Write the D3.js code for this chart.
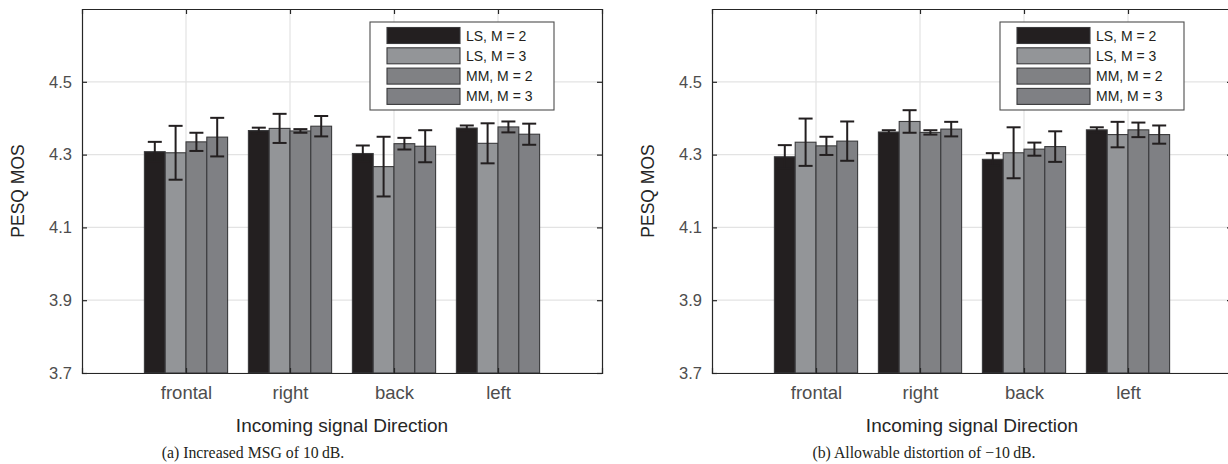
<!DOCTYPE html>
<html>
<head>
<meta charset="utf-8">
<script src="https://cdn.jsdelivr.net/npm/d3@7"></script>
<style>
  body { margin: 0; background: #fff; }
  svg { display: block; }
</style>
</head>
<body>
<svg id="chart" width="1228" height="464"></svg>
<script>
// ----------------------------------------------------------------
// data
var categories = ["frontal", "right", "back", "left"];
var series_names = ["LS, M = 2", "LS, M = 3", "MM, M = 2", "MM, M = 3"];
var y_ticks = [3.7, 3.9, 4.1, 4.3, 4.5];

// (a) increased MSG of 10 dB -- rows = category, cols = series
var means_a = [
  [4.308, 4.305, 4.335, 4.348],
  [4.366, 4.372, 4.365, 4.378],
  [4.303, 4.267, 4.330, 4.323],
  [4.373, 4.331, 4.376, 4.356]
];
var err_a = [
  [0.027, 0.074, 0.025, 0.053],
  [0.008, 0.040, 0.005, 0.028],
  [0.022, 0.082, 0.016, 0.044],
  [0.007, 0.055, 0.015, 0.029]
];

// (b) allowable distortion of -10 dB
var means_b = [
  [4.294, 4.334, 4.324, 4.337],
  [4.362, 4.391, 4.361, 4.370],
  [4.287, 4.305, 4.315, 4.322],
  [4.368, 4.355, 4.368, 4.355]
];
var err_b = [
  [0.032, 0.065, 0.025, 0.054],
  [0.005, 0.031, 0.006, 0.020],
  [0.017, 0.070, 0.018, 0.042],
  [0.007, 0.035, 0.020, 0.025]
];

var captions = ["(a) Increased MSG of 10\u2009dB.", "(b) Allowable distortion of \u221210\u2009dB."];

// ----------------------------------------------------------------
var colors = ["#231f20", "#939598", "#808184", "#7f8084"];
var axis_color = "#262626";
var tick_color = "#4d4d4d";
var grid_color = "#e3e3e3";
var sans = "'Liberation Sans', Arial, Helvetica, sans-serif";
var serif = "'Liberation Serif', 'Times New Roman', serif";

var svg = d3.select("#chart");

draw_panel(82, means_a, err_a, captions[0], 253);
draw_panel(712, means_b, err_b, captions[1], 924);

// ----------------------------------------------------------------
function draw_panel(left, means, errs, caption, caption_x)
{
  var width = 520;
  var top = 9, bottom = 373;

  var x = d3.scaleLinear().domain([0, 5]).range([left, left + width]);
  var y = d3.scaleLinear().domain([3.7, 4.7]).range([bottom, top]);
  var bar_w = 0.2;
  var offsets = [-0.3, -0.1, 0.1, 0.3];

  var g = svg.append("g");

  // grid lines
  g.selectAll(".hgrid").data(y_ticks).enter().append("line")
   .attr("x1", x(0)).attr("x2", x(5))
   .attr("y1", function(d) { return y(d); })
   .attr("y2", function(d) { return y(d); })
   .style("stroke", grid_color).style("stroke-width", 1.2);

  g.selectAll(".vgrid").data(categories).enter().append("line")
   .attr("x1", function(d, i) { return x(i + 1); })
   .attr("x2", function(d, i) { return x(i + 1); })
   .attr("y1", y(4.7)).attr("y2", y(3.7))
   .style("stroke", grid_color).style("stroke-width", 1.2);

  // bars
  var groups = g.selectAll(".grp").data(means).enter().append("g");

  groups.selectAll("rect")
    .data(function(d, i) { return d.map(function(v, j) { return {c: i, s: j, v: v}; }); })
    .enter().append("rect")
    .attr("x", function(d) { return x(d.c + 1 + offsets[d.s] - bar_w / 2); })
    .attr("width", x(bar_w) - x(0))
    .attr("y", function(d) { return y(d.v); })
    .attr("height", function(d) { return y(3.7) - y(d.v); })
    .style("fill", function(d) { return colors[d.s]; })
    .style("stroke", "#3a3a3c")
    .style("stroke-width", 1.1);

  // error bars
  var eb = [];
  means.forEach(function(row, i) {
    row.forEach(function(v, j) { eb.push({c: i, s: j, v: v, e: errs[i][j]}); });
  });
  var cap = 7;
  var ebg = g.selectAll(".eb").data(eb).enter().append("g")
    .style("stroke", "#231f20").style("stroke-width", 2);
  ebg.append("line")
    .attr("x1", function(d) { return x(d.c + 1 + offsets[d.s]); })
    .attr("x2", function(d) { return x(d.c + 1 + offsets[d.s]); })
    .attr("y1", function(d) { return y(d.v + d.e); })
    .attr("y2", function(d) { return y(d.v - d.e); });
  ebg.append("line")
    .attr("x1", function(d) { return x(d.c + 1 + offsets[d.s]) - cap; })
    .attr("x2", function(d) { return x(d.c + 1 + offsets[d.s]) + cap; })
    .attr("y1", function(d) { return y(d.v + d.e); })
    .attr("y2", function(d) { return y(d.v + d.e); });
  ebg.append("line")
    .attr("x1", function(d) { return x(d.c + 1 + offsets[d.s]) - cap; })
    .attr("x2", function(d) { return x(d.c + 1 + offsets[d.s]) + cap; })
    .attr("y1", function(d) { return y(d.v - d.e); })
    .attr("y2", function(d) { return y(d.v - d.e); });

  // axes (ticks inward, box all round)
  var tick_len = 5;
  var x_vals = categories.map(function(d, i) { return i + 1; });

  var ax_left = g.append("g").attr("transform", "translate(" + x(0) + ",0)")
    .call(d3.axisLeft(y).tickValues(y_ticks).tickSize(-tick_len).tickPadding(10).tickFormat(d3.format(".1f")));
  var ax_right = g.append("g").attr("transform", "translate(" + x(5) + ",0)")
    .call(d3.axisRight(y).tickValues(y_ticks).tickSize(-tick_len).tickFormat(""));
  var ax_bottom = g.append("g").attr("transform", "translate(0," + y(3.7) + ")")
    .call(d3.axisBottom(x).tickValues(x_vals).tickSize(-tick_len).tickPadding(13)
      .tickFormat(function(d) { return categories[d - 1]; }));
  var ax_top = g.append("g").attr("transform", "translate(0," + y(4.7) + ")")
    .call(d3.axisTop(x).tickValues(x_vals).tickSize(-tick_len).tickFormat(""));

  [ax_left, ax_right, ax_bottom, ax_top].forEach(function(a) {
    a.select(".domain").style("stroke", axis_color).style("stroke-width", 1.2);
    a.selectAll(".tick line").style("stroke", axis_color).style("stroke-width", 1.2);
    a.selectAll("text").style("fill", tick_color).style("font-family", sans).style("font-size", "16.5px");
  });
  ax_bottom.selectAll("text").style("font-size", "18.5px");

  // axis labels
  g.append("text")
   .attr("transform", "rotate(-90)")
   .attr("x", -(top + bottom) / 2)
   .attr("y", left - 58)
   .style("text-anchor", "middle")
   .style("font-family", sans).style("font-size", "17.5px").style("fill", "#262626")
   .text("PESQ MOS");

  g.append("text")
   .attr("x", left + width / 2)
   .attr("y", 432)
   .style("text-anchor", "middle")
   .style("font-family", sans).style("font-size", "19px").style("fill", "#262626")
   .text("Incoming signal Direction");

  g.append("text")
   .attr("x", caption_x)
   .attr("y", 458)
   .style("text-anchor", "middle")
   .style("font-family", serif).style("font-size", "15.8px").style("fill", "#231f20")
   .text(caption);

  // legend
  var lg = g.append("g").attr("transform", "translate(" + (left + 288) + ",22)");
  lg.append("rect")
    .attr("width", 184).attr("height", 88)
    .style("fill", "#fff").style("stroke", "#4d4d4d").style("stroke-width", 1.1);

  var items = lg.selectAll(".item").data(series_names).enter().append("g")
    .attr("transform", function(d, i) { return "translate(17," + (5.5 + i * 20.3) + ")"; });
  items.append("rect")
    .attr("width", 73).attr("height", 16)
    .style("fill", function(d, i) { return colors[i]; })
    .style("stroke", "#3a3a3c").style("stroke-width", 1.1);
  items.append("text")
    .attr("x", 79).attr("y", 13)
    .style("font-family", sans).style("font-size", "14px").style("fill", "#231f20")
    .text(function(d) { return d; });
}
</script>
</body>
</html>
